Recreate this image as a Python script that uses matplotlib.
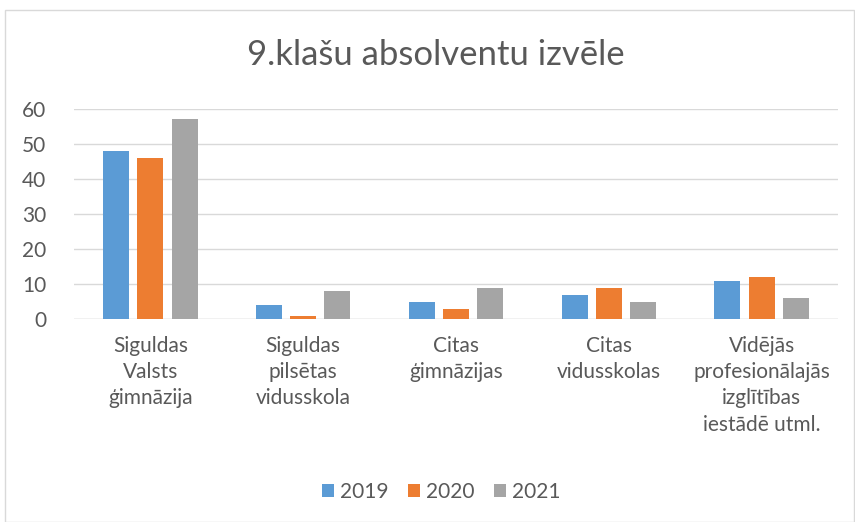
import matplotlib
matplotlib.use("Agg")
import matplotlib.pyplot as plt
import numpy as np
from matplotlib.patches import Rectangle

categories = ["Siguldas\nValsts\nģimnāzija", "Siguldas\npilsētas\nvidusskola",
              "Citas\nģimnāzijas", "Citas\nvidusskolas",
              "Vidējās\nprofesionālajās\nizglītības\niestādē utml."]
years = ["2019", "2020", "2021"]
v2019 = [48, 4, 5, 7, 11]
v2020 = [46, 1, 3, 9, 12]
v2021 = [57, 8, 9, 5, 6]
colors = ["#5B9BD5", "#ED7D31", "#A5A5A5"]
TXT = "#595959"

plt.rcParams["font.family"] = ["Lato", "DejaVu Sans"]

fig = plt.figure(figsize=(8.55, 5.22), dpi=100)
fig.patch.set_facecolor("white")
fig.patches.append(Rectangle((5 / 855, 0), 849 / 855, 512 / 522, transform=fig.transFigure,
                             fill=False, edgecolor="#D9D9D9", linewidth=1))

ax = fig.add_axes([74 / 855, 1 - 319 / 522, 764 / 855, 210 / 522])
x = np.arange(len(categories))
w = 0.17
off = 0.224
for i, (vals, yr) in enumerate(zip([v2019, v2020, v2021], years)):
    ax.bar(x + (i - 1) * off, vals, w, color=colors[i], label=yr, zorder=3)

ax.set_xlim(-0.5, len(categories) - 0.5)
ax.set_ylim(0, 60)
ax.set_yticks(range(0, 61, 10))
ax.grid(axis="y", color="#D9D9D9", linewidth=1, zorder=0)
for s in ax.spines.values():
    s.set_visible(False)
ax.tick_params(axis="both", length=0, colors=TXT, labelsize=15)
ax.tick_params(axis="y", pad=20)
ax.tick_params(axis="x", pad=12)
ax.set_xticks(x)
ax.set_xticklabels(categories, linespacing=1.4)
ax.axhline(0, color="#D9D9D9", linewidth=1, zorder=2)

fig.text(0.51, 1 - 55 / 522, "9.klašu absolventu izvēle", ha="center", va="center",
         fontsize=25, color=TXT)
fig.legend(loc="center", bbox_to_anchor=(0.516, 1 - 492 / 522), ncol=3, frameon=False,
           fontsize=15, labelcolor=TXT, handlelength=0.6, handleheight=0.6,
           handletextpad=0.3, columnspacing=0.9)

fig.savefig("out.png", dpi=100, facecolor="white")
